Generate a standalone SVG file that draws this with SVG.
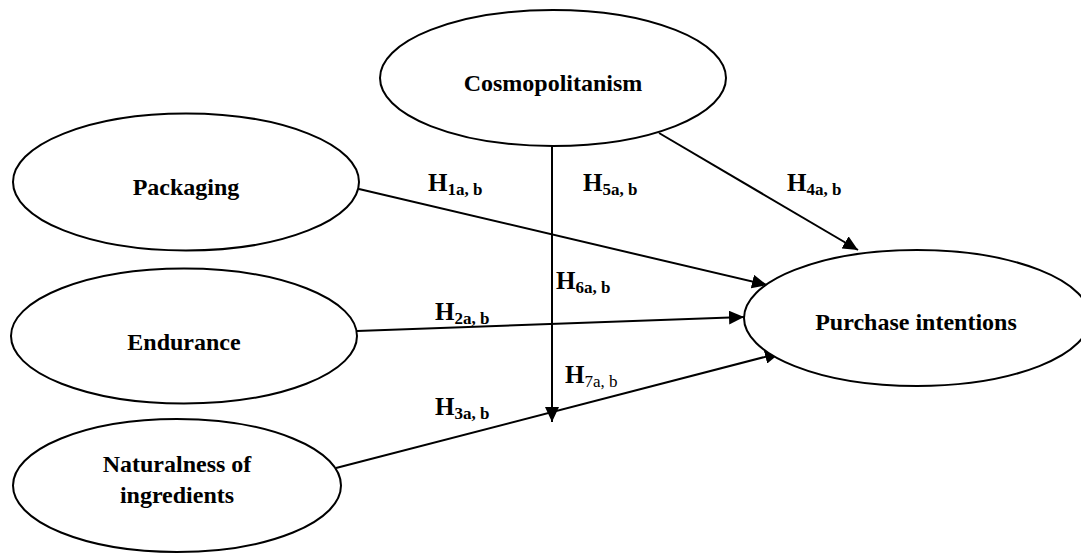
<svg xmlns="http://www.w3.org/2000/svg" width="1081" height="553" viewBox="0 0 1081 553">
<style>
.node ellipse{fill:#fff;stroke:#000;stroke-width:2}
.lbl{font-family:'Liberation Serif','DejaVu Serif',serif;font-weight:bold;font-size:24px;fill:#000;text-anchor:middle}
.conn line{stroke:#000;stroke-width:2;marker-end:url(#arr)}
.h{font-family:'Liberation Serif','DejaVu Serif',serif;font-weight:bold;font-size:25px;fill:#000}
.sub{font-size:17px}
.subn{font-size:17px;font-weight:normal}
</style>
<defs>
<marker id="arr" markerUnits="userSpaceOnUse" markerWidth="16" markerHeight="14" refX="15" refY="7" orient="auto">
<path d="M0,0 L15,7 L0,14 z" fill="#000"/>
</marker>
</defs>
<rect width="1081" height="553" fill="#fff"/>
<g id="connectors" class="conn">
<line x1="359" y1="189" x2="767" y2="285"/>
<line x1="357" y1="331" x2="744" y2="317"/>
<line x1="336" y1="468" x2="780" y2="353"/>
<line x1="659" y1="133" x2="858" y2="250"/>
<line x1="552" y1="146" x2="552" y2="422"/>
</g>
<g id="cosmopolitanism" class="node">
<ellipse cx="553" cy="78" rx="173" ry="68"/>
<text class="lbl" x="553" y="91">Cosmopolitanism</text>
</g>
<g id="packaging" class="node">
<ellipse cx="186" cy="182" rx="173" ry="68.5"/>
<text class="lbl" x="186" y="195">Packaging</text>
</g>
<g id="endurance" class="node">
<ellipse cx="184" cy="336" rx="173" ry="67.5"/>
<text class="lbl" x="184" y="350">Endurance</text>
</g>
<g id="naturalness" class="node">
<ellipse cx="177" cy="485.5" rx="164" ry="66.5"/>
<text class="lbl" x="177" y="472">Naturalness of</text>
<text class="lbl" x="177" y="503">ingredients</text>
</g>
<g id="purchase" class="node">
<ellipse cx="917" cy="318" rx="173" ry="68"/>
<text class="lbl" x="916" y="330">Purchase intentions</text>
</g>
<g id="labels">
<text class="h" x="428" y="191">H<tspan class="sub" dy="4">1a, b</tspan></text>
<text class="h" x="583" y="191">H<tspan class="sub" dy="4">5a, b</tspan></text>
<text class="h" x="787" y="191">H<tspan class="sub" dy="4">4a, b</tspan></text>
<text class="h" x="556" y="289">H<tspan class="sub" dy="4">6a, b</tspan></text>
<text class="h" x="435" y="320">H<tspan class="sub" dy="4">2a, b</tspan></text>
<text class="h" x="565" y="383">H<tspan class="subn" dy="4">7a, b</tspan></text>
<text class="h" x="435" y="415">H<tspan class="sub" dy="4">3a, b</tspan></text>
</g>
</svg>
